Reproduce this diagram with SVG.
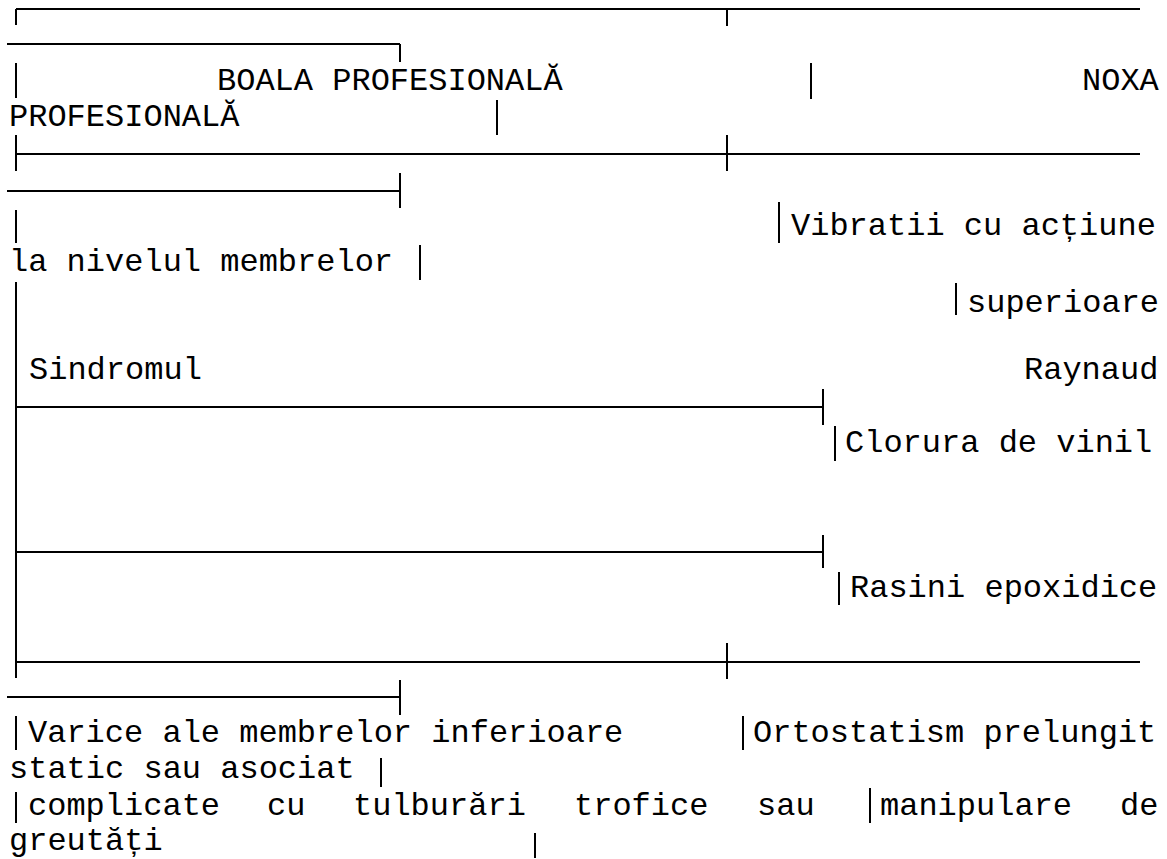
<svg xmlns="http://www.w3.org/2000/svg" width="1167" height="859" viewBox="0 0 1167 859">
<style>
text{font-family:"Liberation Mono","Courier New",monospace;font-size:32px;fill:#000}
.g line{stroke:#000;stroke-width:2;stroke-linecap:butt}
</style>
<rect width="1167" height="859" fill="#fff"/>
<g id="grid" class="g">
<line x1="16" y1="9" x2="1140" y2="9"/>
<line x1="16" y1="9" x2="16" y2="25"/>
<line x1="727" y1="9" x2="727" y2="26"/>
<line x1="7" y1="44" x2="400" y2="44"/>
<line x1="400" y1="44" x2="400" y2="62"/>
<line x1="16" y1="63" x2="16" y2="98"/>
<line x1="811" y1="63" x2="811" y2="99"/>
<line x1="497" y1="100" x2="497" y2="135"/>
<line x1="16" y1="154" x2="1140" y2="154"/>
<line x1="16" y1="135" x2="16" y2="171"/>
<line x1="727" y1="135" x2="727" y2="171"/>
<line x1="7" y1="191" x2="400" y2="191"/>
<line x1="400" y1="173" x2="400" y2="208"/>
<line x1="16" y1="210" x2="16" y2="243"/>
<line x1="779" y1="202" x2="779" y2="243"/>
<line x1="420" y1="245" x2="420" y2="280"/>
<line x1="16" y1="282" x2="16" y2="678"/>
<line x1="956" y1="283" x2="956" y2="315"/>
<line x1="16" y1="407" x2="823" y2="407"/>
<line x1="823" y1="389" x2="823" y2="425"/>
<line x1="835" y1="426" x2="835" y2="461"/>
<line x1="16" y1="552" x2="823" y2="552"/>
<line x1="823" y1="535" x2="823" y2="568"/>
<line x1="839" y1="572" x2="839" y2="605"/>
<line x1="16" y1="662" x2="1140" y2="662"/>
<line x1="727" y1="643" x2="727" y2="679"/>
<line x1="7" y1="697" x2="400" y2="697"/>
<line x1="400" y1="680" x2="400" y2="715"/>
<line x1="16" y1="716" x2="16" y2="750"/>
<line x1="743" y1="716" x2="743" y2="750"/>
<line x1="381" y1="758" x2="381" y2="787"/>
<line x1="16" y1="792" x2="16" y2="823"/>
<line x1="870" y1="788" x2="870" y2="823"/>
<line x1="535" y1="833" x2="535" y2="858"/>
</g>
<g id="header-boala">
<text x="217" y="90">BOALA PROFESIONALĂ</text>
</g>
<g id="header-noxa">
<text x="1082" y="90">NOXA</text>
<text x="9" y="126">PROFESIONALĂ</text>
</g>
<g id="noxa-vibratii">
<text x="791" y="235">Vibratii cu acțiune</text>
<text x="9" y="271">la nivelul membrelor</text>
<text x="967" y="312">superioare</text>
</g>
<g id="boala-raynaud">
<text x="29" y="379">Sindromul</text>
<text x="1024" y="379">Raynaud</text>
</g>
<g id="noxa-clorura">
<text x="845" y="452">Clorura de vinil</text>
</g>
<g id="noxa-rasini">
<text x="850" y="597">Rasini epoxidice</text>
</g>
<g id="boala-varice">
<text x="28" y="742">Varice ale membrelor inferioare</text>
<text x="9" y="778">static sau asociat</text>
<text x="28" y="815">complicate</text>
<text x="267" y="815">cu</text>
<text x="353" y="815">tulburări</text>
<text x="574" y="815">trofice</text>
<text x="757" y="815">sau</text>
</g>
<g id="noxa-ortostatism">
<text x="753" y="742">Ortostatism prelungit</text>
<text x="880" y="815">manipulare</text>
<text x="1120" y="815">de</text>
<text x="9" y="850">greutăți</text>
</g>
</svg>
